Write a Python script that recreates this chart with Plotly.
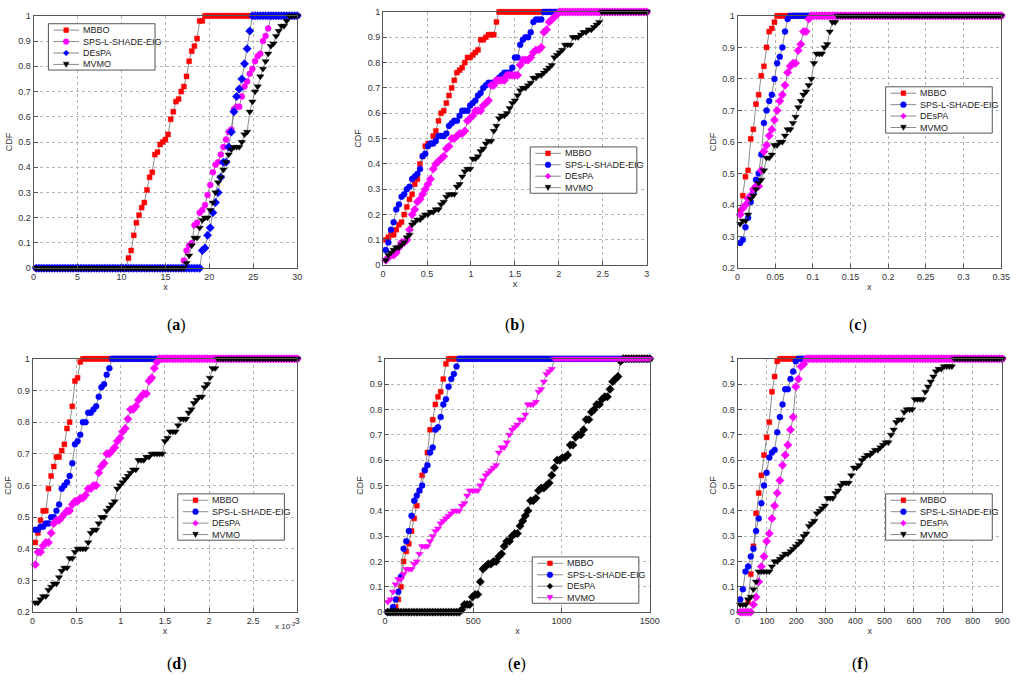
import plotly.graph_objects as go

N = 100  # CDF evaluated on N equally spaced points in (0, x_max]
names = ["MBBO", "SPS-L-SHADE-EIG", "DEsPA", "MVMO"]

# ---- data: CDF values in percent, "lead" = number of leading zero points ----
# (a)
a_xmax = 30
a_lead = [35, 56, 63, 57]
a_mbbo = [4, 7, 13, 18, 21, 24, 26, 31, 36, 38, 45, 46, 49, 50, 51, 53, 59, 62, 66, 67,
          70, 72, 76, 82, 86, 88, 91, 98, 98]
a_sps = [3, 7, 9, 10, 17, 18, 22, 23, 25, 29, 33, 38, 41, 42, 45, 48, 51, 54, 55, 63,
         64, 64, 68, 72, 74, 77, 79, 82, 84, 85, 90, 92, 95]
a_despa = [7, 8, 13, 16, 22, 26, 30, 36, 42, 42, 48, 54, 62, 68, 71, 75, 81, 87, 94]
a_mvmo = [2, 5, 9, 12, 12, 16, 19, 20, 20, 23, 26, 30, 34, 36, 39, 42, 45, 47, 48, 48,
          48, 50, 53, 54, 62, 66, 70, 72, 76, 79, 82, 85, 88, 89, 92, 94, 96, 96, 98]

# (b)
b_xmax = 3
b_lead = [0, 0, 0, 0]
b_mbbo = [10, 11, 12, 12, 14, 16, 17, 20, 23, 26, 28, 32, 34, 40, 43, 47, 48, 48, 51, 53,
          57, 60, 61, 64, 67, 70, 73, 76, 77, 78, 80, 82, 82, 83, 84, 85, 89, 89, 90, 91,
          91, 91, 96]
b_sps = [6, 9, 14, 17, 22, 24, 27, 28, 30, 31, 34, 35, 36, 38, 43, 44, 47, 48, 48, 49,
         51, 51, 51, 52, 55, 56, 57, 57, 59, 61, 61, 61, 63, 64, 65, 67, 68, 70, 71, 72,
         72, 72, 73, 74, 75, 76, 76, 76, 78, 82, 82, 87, 89, 90, 90, 92, 96, 97, 97, 97]
b_despa = [2, 3, 4, 4, 5, 7, 9, 9, 10, 14, 20, 22, 25, 26, 28, 30, 32, 34, 38, 40,
           41, 42, 43, 46, 47, 50, 50, 51, 52, 52, 53, 57, 58, 59, 61, 61, 61, 63, 64, 65,
           71, 71, 73, 73, 73, 73, 75, 75, 75, 75, 75, 79, 81, 81, 81, 82, 84, 85, 85, 86,
           92, 93, 96, 97, 98, 99]
b_mvmo = [2, 4, 5, 6, 7, 7, 8, 9, 11, 12, 16, 17, 18, 18, 19, 20, 20, 21, 21, 22,
          22, 24, 25, 27, 28, 28, 28, 31, 32, 35, 37, 38, 38, 42, 42, 43, 45, 46, 48, 49,
          49, 53, 55, 58, 59, 59, 60, 62, 64, 65, 67, 69, 70, 70, 71, 72, 74, 74, 75, 75,
          76, 77, 78, 79, 82, 83, 84, 85, 87, 87, 87, 90, 90, 90, 91, 92, 92, 93, 93, 94,
          95, 96]

# (c)
c_xmax = 0.35
c_lead = [0, 0, 0, 0]
c_mbbo = [38, 43, 49, 51, 61, 64, 72, 75, 81, 84, 90, 95, 96, 98]
c_sps = [28, 29, 33, 36, 41, 44, 48, 50, 56, 66, 70, 73, 75, 80, 85, 87, 90, 95, 99]
c_despa = [37, 39, 40, 42, 43, 45, 46, 46, 51, 57, 59, 62, 64, 67, 70, 73, 75, 78, 82, 84,
           85, 85, 89, 91, 95, 95, 99]
c_mvmo = [34, 35, 35, 37, 42, 43, 45, 47, 48, 51, 55, 55, 56, 59, 59, 60, 60, 62, 64, 64,
          66, 68, 71, 73, 75, 76, 78, 80, 85, 88, 88, 88, 90, 91, 95, 98, 98]

# (d)
d_xmax = 3e-3
d_lead = [0, 0, 0, 0]
d_mbbo = [42, 45, 49, 52, 52, 59, 63, 66, 69, 69, 71, 73, 78, 80, 85, 93, 94, 99]
d_sps = [46, 46, 47, 47, 48, 48, 50, 50, 52, 54, 59, 60, 61, 63, 67, 73, 74, 76, 80, 80,
         83, 83, 84, 85, 88, 91, 92, 95, 97]
d_despa = [35, 39, 39, 41, 42, 42, 45, 48, 49, 49, 50, 51, 52, 52, 54, 55, 55, 56, 56, 57,
           59, 59, 60, 60, 64, 66, 67, 70, 70, 71, 72, 74, 75, 77, 78, 81, 84, 84, 85, 87,
           88, 89, 89, 93, 94, 97, 99]
d_mvmo = [23, 23, 24, 25, 25, 27, 28, 29, 29, 31, 33, 34, 34, 37, 37, 39, 40, 40, 40, 40,
          42, 45, 46, 46, 48, 50, 50, 52, 53, 54, 55, 59, 60, 61, 62, 63, 64, 65, 65, 68,
          68, 68, 69, 69, 70, 70, 70, 70, 70, 74, 75, 77, 77, 77, 79, 81, 81, 81, 83, 84,
          86, 87, 88, 88, 91, 92, 94, 97, 97]

# (e)
e_xmax = 1500
e_lead = [3, 2, 28, 0]
e_mbbo = [2, 5, 10, 20, 24, 27, 32, 37, 42, 48, 54, 56, 63, 72, 76, 82, 85, 87, 92, 98]
e_sps = [2, 5, 8, 14, 25, 28, 32, 38, 44, 46, 48, 50, 56, 58, 63, 65, 72, 73, 77, 82,
         84, 89, 92, 94, 97]
e_despa = [1, 3, 3, 3, 6, 7, 7, 12, 17, 18, 19, 19, 20, 20, 22, 23, 26, 28, 28, 30,
           31, 31, 34, 36, 38, 40, 44, 44, 45, 48, 49, 49, 50, 51, 54, 57, 60, 60, 61, 61,
           62, 66, 66, 69, 70, 70, 72, 76, 76, 79, 80, 82, 82, 84, 85, 85, 88, 91, 92, 93,
           99]
e_mvmo = [4, 5, 8, 11, 13, 13, 15, 17, 17, 17, 19, 20, 23, 26, 26, 26, 28, 30, 32, 33,
          35, 36, 37, 38, 39, 40, 40, 40, 42, 43, 46, 48, 48, 48, 48, 50, 52, 54, 55, 56,
          57, 58, 63, 65, 65, 67, 70, 72, 73, 74, 76, 76, 78, 82, 82, 82, 83, 87, 88, 91,
          94, 95, 96]

# (f)
f_xmax = 900
f_lead = [3, 0, 5, 0]
f_mbbo = [4, 15, 26, 39, 47, 54, 62, 69, 75, 87, 93, 99]
f_sps = [5, 9, 16, 18, 22, 25, 32, 37, 43, 50, 55, 61, 63, 64, 71, 77, 82, 88, 88, 92,
         95, 99]
f_despa = [3, 6, 12, 18, 22, 28, 31, 37, 42, 47, 52, 58, 62, 66, 72, 77, 89, 92, 97, 98]
f_mvmo = [3, 3, 3, 5, 6, 9, 12, 16, 16, 16, 16, 16, 18, 20, 20, 21, 22, 23, 23, 24,
          25, 26, 27, 28, 30, 31, 34, 35, 36, 39, 40, 41, 42, 45, 45, 45, 47, 48, 50, 51,
          51, 51, 54, 57, 57, 58, 60, 61, 62, 62, 63, 64, 64, 65, 66, 67, 67, 70, 72, 75,
          76, 76, 79, 80, 80, 80, 84, 84, 84, 84, 87, 89, 91, 93, 95, 96, 96, 97, 97, 97,
          97]

x_ticks_a = [0, 5, 10, 15, 20, 25, 30]
x_ticks_b = [0, 0.5, 1, 1.5, 2, 2.5, 3]
x_ticks_c = [0, 0.05, 0.1, 0.15, 0.2, 0.25, 0.3, 0.35]
x_ticks_d = [0, 0.5e-3, 1e-3, 1.5e-3, 2e-3, 2.5e-3, 3e-3]
x_ticktext_d = ["0", "0.5", "1", "1.5", "2", "2.5", "3"]
x_ticks_e = [0, 500, 1000, 1500]
x_ticks_f = [0, 100, 200, 300, 400, 500, 600, 700, 800, 900]


def cdf(values, lead):
    ys = [0] * lead + values + [100] * (N - lead - len(values))
    return [v / 100 for v in ys]


RED = ("#ff0000", "square")
MAG_C = ("#ff00ff", "circle")
BLU_D = ("#0000ff", "diamond")
BLK_T = ("#000000", "triangle-down")
BLU_C = ("#0000ff", "circle")
MAG_D = ("#ff00ff", "diamond")
BLK_D = ("#000000", "diamond")
MAG_T = ("#ff00ff", "triangle-down")
SIZES = {"square": 5, "circle": 6, "diamond": 6.5, "triangle-down": 6.5}

panels = [
    dict(xmax=a_xmax, lead=a_lead, series=[a_mbbo, a_sps, a_despa, a_mvmo],
         styles=[RED, MAG_C, BLU_D, BLK_T], ymin=0, ticks=x_ticks_a,
         dom_x=[31, 298], dom_y=[11, 267], leg=(46, 19), label="a"),
    dict(xmax=b_xmax, lead=b_lead, series=[b_mbbo, b_sps, b_despa, b_mvmo],
         styles=[RED, BLU_C, MAG_D, BLK_T], ymin=0, ticks=x_ticks_b,
         dom_x=[385, 652], dom_y=[7, 264], leg=(534, 144), label="b"),
    dict(xmax=c_xmax, lead=c_lead, series=[c_mbbo, c_sps, c_despa, c_mvmo],
         styles=[RED, BLU_C, MAG_D, BLK_T], ymin=0.2, ticks=x_ticks_c,
         dom_x=[744, 1011], dom_y=[11, 267], leg=(894, 83), label="c"),
    dict(xmax=d_xmax, lead=d_lead, series=[d_mbbo, d_sps, d_despa, d_mvmo],
         styles=[RED, BLU_C, MAG_D, BLK_T], ymin=0.2, ticks=x_ticks_d,
         dom_x=[30, 298], dom_y=[359, 616], leg=(177, 496), label="d"),
    dict(xmax=e_xmax, lead=e_lead, series=[e_mbbo, e_sps, e_despa, e_mvmo],
         styles=[RED, BLU_C, BLK_D, MAG_T], ymin=0, ticks=x_ticks_e,
         dom_x=[387, 655], dom_y=[359, 616], leg=(536, 560), label="e"),
    dict(xmax=f_xmax, lead=f_lead, series=[f_mbbo, f_sps, f_despa, f_mvmo],
         styles=[RED, BLU_C, MAG_D, BLK_T], ymin=0, ticks=x_ticks_f,
         dom_x=[744, 1012], dom_y=[359, 616], leg=(894, 496), label="f"),
]

W, H = 1024, 694


def px(x):
    return x / W


def py(y):
    return 1 - y / H


def marker_shape(sym, cx, cy, col):
    # legend sample marker drawn in pixel units, converted to paper coords
    r = 2.9
    base = dict(xref="paper", yref="paper", fillcolor=col, line=dict(color=col, width=0.5),
                layer="above")
    if sym == "square":
        s = 2.4
        return dict(type="rect", x0=px(cx - s), x1=px(cx + s), y0=py(cy + s), y1=py(cy - s), **base)
    if sym == "circle":
        return dict(type="circle", x0=px(cx - r), x1=px(cx + r), y0=py(cy + r), y1=py(cy - r), **base)
    if sym == "diamond":
        pts = [(cx, cy - r), (cx + r, cy), (cx, cy + r), (cx - r, cy)]
    else:
        pts = [(cx - r, cy - r * 0.8), (cx + r, cy - r * 0.8), (cx, cy + r)]
    path = "M " + " L ".join("%f,%f" % (px(a), py(b)) for a, b in pts) + " Z"
    return dict(type="path", path=path, **base)


fig = go.Figure()
shapes = []
annotations = []
layout = dict(width=W, height=H, margin=dict(l=0, r=0, t=0, b=0), showlegend=False,
              paper_bgcolor="white", plot_bgcolor="white",
              font=dict(family="Liberation Sans, Arial", size=9, color="#333333"))

for i, p in enumerate(panels):
    n = i + 1
    sfx = "" if n == 1 else str(n)
    xs = [p["xmax"] * k / N for k in range(1, N + 1)]
    for name, vals, lead, (col, sym) in zip(names, p["series"], p["lead"], p["styles"]):
        fig.add_trace(go.Scatter(
            x=xs, y=cdf(vals, lead), name=name, mode="lines+markers",
            xaxis="x" + sfx, yaxis="y" + sfx, cliponaxis=False,
            line=dict(color="#6e6e6e", width=0.8),
            marker=dict(color=col, symbol=sym, size=SIZES[sym],
                        line=dict(color=col, width=0.4)),
        ))
    ymin = p["ymin"]
    xa = dict(domain=[px(p["dom_x"][0]), px(p["dom_x"][1])], anchor="y" + sfx,
              range=[0, p["xmax"]], tickvals=p["ticks"],
              showgrid=True, gridcolor="#b4b4b4", griddash="dot", gridwidth=1,
              zeroline=False, showline=True, mirror=True, linecolor="#555555",
              linewidth=1, ticks="inside", ticklen=4, tickcolor="#555555",
              title=dict(text="x", standoff=2, font=dict(size=9)))
    if p["label"] == "d":
        xa["ticktext"] = x_ticktext_d
    ya = dict(domain=[py(p["dom_y"][1]), py(p["dom_y"][0])], anchor="x" + sfx,
              range=[ymin, 1], dtick=0.1, tick0=0,
              showgrid=True, gridcolor="#b4b4b4", griddash="dot", gridwidth=1,
              zeroline=False, showline=True, mirror=True, linecolor="#555555",
              linewidth=1, ticks="inside", ticklen=4, tickcolor="#555555",
              title=dict(text="CDF", standoff=4, font=dict(size=9)))
    layout["xaxis" + sfx] = xa
    layout["yaxis" + sfx] = ya

    # legend box (drawn by hand so the rows stay compact as in the original)
    lx, ly = p["leg"]
    shapes.append(dict(type="rect", xref="paper", yref="paper",
                       x0=px(lx), x1=px(lx + 108), y0=py(ly + 47), y1=py(ly),
                       fillcolor="white", line=dict(color="#555555", width=1), layer="above"))
    for j, (name, (col, sym)) in enumerate(zip(names, p["styles"])):
        ry = ly + 6.5 + 11.6 * j
        shapes.append(dict(type="line", xref="paper", yref="paper",
                           x0=px(lx + 5), x1=px(lx + 31), y0=py(ry), y1=py(ry),
                           line=dict(color="#6e6e6e", width=0.8), layer="above"))
        shapes.append(marker_shape(sym, lx + 18, ry, col))
        annotations.append(dict(text=name, x=px(lx + 33), y=py(ry), xref="paper", yref="paper",
                                xanchor="left", yanchor="middle", showarrow=False,
                                font=dict(size=9, color="#222222")))

    cx = (p["dom_x"][0] + p["dom_x"][1]) / 2
    lab_y = 325 if n <= 3 else 680
    annotations.append(dict(
        text="(<b>%s</b>)" % p["label"], x=px(cx), y=py(lab_y), xref="paper", yref="paper",
        showarrow=False, font=dict(family="Liberation Serif", size=16, color="#000000")))

annotations.append(dict(
    text="x 10<sup>-3</sup>", x=px(298), y=py(630), xref="paper", yref="paper",
    xanchor="right", yanchor="middle", showarrow=False, font=dict(size=8, color="#333333")))

layout["shapes"] = shapes
layout["annotations"] = annotations
fig.update_layout(**layout)
fig.write_html("out.html", config={"displayModeBar": False},
               post_script="document.body.style.margin='0';")
